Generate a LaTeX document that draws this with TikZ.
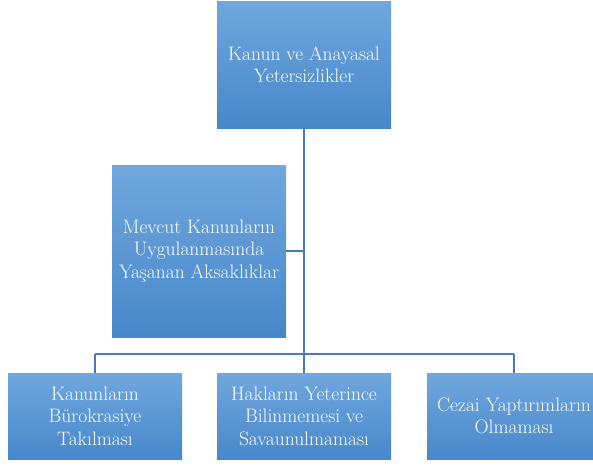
\documentclass[tikz,border=0pt]{standalone}
\usepackage{tikz}
\usetikzlibrary{positioning}
\usetikzlibrary{calc}
\definecolor{boxtop}{RGB}{112,167,222}
\definecolor{boxbot}{RGB}{71,135,202}
\definecolor{linkblue}{RGB}{74,122,180}

\begin{document}
\begin{tikzpicture}[
  x=1pt, y=1pt,
  box/.style={draw=none, top color=boxtop, bottom color=boxbot, align=center, text=white,
    minimum width=174pt, inner sep=2pt, font=\fontsize{19.5}{22.5}\selectfont},
  link/.style={draw=linkblue, line width=1.3pt}
]
\useasboundingbox[fill=white] (0,0) rectangle (593,-466);
% Nodes
\node[box, minimum height=127pt] (top) at (304,-64.5) {Kanun ve Anayasal\\Yetersizlikler};
\node[box, minimum height=172pt] (mid) at (199,-251) {Mevcut Kanunların\\Uygulanmasında\\Yaşanan Aksaklıklar};

\node[box, minimum height=86pt] (law) at (95,-416) {Kanunların\\Bürokrasiye\\Takılması};
\node[box, minimum height=86pt] (rights) at (304,-416) {Hakların Yeterince\\Bilinmemesi ve\\Savaunulmaması};
\node[box, minimum height=86pt] (penal) at (514,-416) {Cezai Yaptırımların\\Olmaması};

\coordinate (bar) at (304,-354);

% Edges
\draw[link] (top.south) -- (bar);
\draw[link] (mid.east) -- (mid.east -| top.south);
\draw[link] (bar -| law) -- (bar -| penal);
\draw[link] (bar -| law) -- (law.north);
\draw[link] (bar) -- (rights.north);
\draw[link] (bar -| penal) -- (penal.north);

\end{tikzpicture}
\end{document}
